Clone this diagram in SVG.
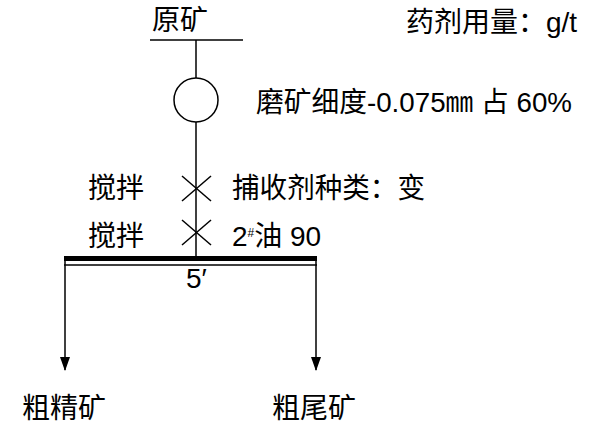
<svg xmlns="http://www.w3.org/2000/svg" width="600" height="429" viewBox="0 0 600 429">
<defs><marker id="ah" markerWidth="14" markerHeight="10" refX="13" refY="5" orient="auto" markerUnits="userSpaceOnUse"><path d="M0,0 L14,5 L0,10 Z" fill="#000"/></marker></defs>
<style>.t{font-family:"Liberation Sans","Noto Sans CJK SC",sans-serif;font-size:28px;fill:#000}.l{stroke:#000;stroke-width:1.5;fill:none}</style>
<rect width="600" height="429" fill="#fff"/>
<g id="connectors">
<line class="l" x1="150" y1="40" x2="243" y2="40"/>
<line class="l" x1="196" y1="40" x2="196" y2="78"/>
<line class="l" x1="196" y1="122" x2="196" y2="256"/>
<line class="l" x1="182" y1="176" x2="211" y2="201"/><line class="l" x1="182" y1="201" x2="211" y2="176"/>
<line class="l" x1="182" y1="220" x2="211" y2="245"/><line class="l" x1="182" y1="245" x2="211" y2="220"/>
<rect x="64" y="256" width="253" height="5" fill="#000"/>
<line class="l" x1="64" y1="265" x2="317" y2="265"/>
<line class="l" x1="65" y1="261" x2="65" y2="370" marker-end="url(#ah)"/>
<line class="l" x1="316" y1="261" x2="316" y2="370" marker-end="url(#ah)"/>
</g>
<g id="ore"><text class="t" x="152" y="30">原矿</text></g>
<g id="mill"><circle class="l" cx="196" cy="100" r="22"/><text class="t" x="256" y="112" font-size="22" textLength="316" lengthAdjust="spacingAndGlyphs">磨矿细度-0.075㎜ 占 60%</text></g>
<g id="unit"><text class="t" x="406" y="32" font-size="24">药剂用量：g/t</text></g>
<g id="mix1"><text class="t" x="88" y="198">搅拌</text><text class="t" x="232" y="198" textLength="193" lengthAdjust="spacingAndGlyphs">捕收剂种类：变</text></g>
<g id="mix2"><text class="t" x="88" y="246">搅拌</text><text class="t" x="232" y="246" font-size="26">2<tspan font-size="12" dy="-9">#</tspan><tspan dy="9">油 90</tspan></text></g>
<g id="float"><text class="t" x="186" y="288" font-family="Liberation Serif,serif" font-size="20">5′</text></g>
<g id="conc"><text class="t" x="22" y="418">粗精矿</text></g>
<g id="tail"><text class="t" x="272" y="418">粗尾矿</text></g>
</svg>
